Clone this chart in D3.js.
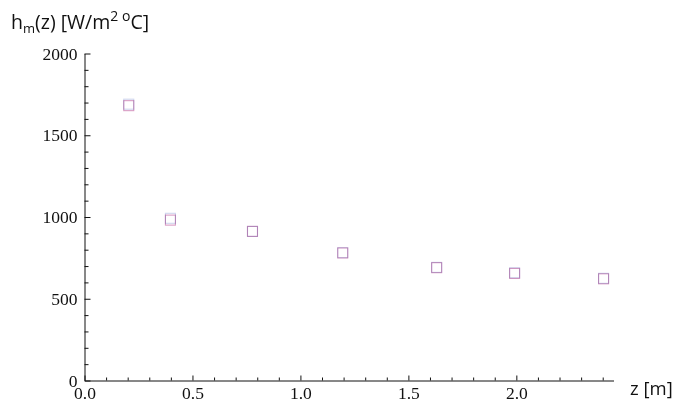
<!DOCTYPE html>
<html>
<head>
<meta charset="utf-8">
<script src="https://cdn.jsdelivr.net/npm/d3@7"></script>
<style>
  html, body { margin: 0; padding: 0; background: #fff; }
  svg { display: block; }
  .tick text { font-family: "Liberation Serif", "Times New Roman", serif; font-size: 17.5px; fill: #111; }
  .axis path, .axis line { stroke: #111; }
  .title { font-family: "Open Sans", sans-serif; font-size: 19.5px; fill: #111; }
</style>
</head>
<body>
<script>
// Heat transfer coefficient along the channel, two overlaid measurement series
const zPositions = [0.205, 0.398, 0.778, 1.196, 1.631, 1.992, 2.404];
const seriesA = [1690, 992, 912, 782, 692, 659, 625];
const seriesB = [1681, 981, 912, 780, 690, 655, 622];
const xMajorTicks = [0.0, 0.5, 1.0, 1.5, 2.0];
const yMajorTicks = [0, 500, 1000, 1500, 2000];

const W = 679, H = 402;
const svg = d3.select("body").append("svg").attr("width", W).attr("height", H);

const x = d3.scaleLinear().domain([0, 2.45]).range([84.5, 613.5]);
const y = d3.scaleLinear().domain([0, 2000]).range([380.5, 53.5]);

// minor ticks
const xMinor = d3.range(1, 25).map(i => i / 10).filter(v => Math.abs(v * 2 - Math.round(v * 2)) > 1e-6);
const yMinor = d3.range(100, 2000, 100).filter(v => v % 500 !== 0);

svg.append("g").attr("class", "axis").attr("transform", "translate(0,380.5)")
  .call(d3.axisBottom(x).tickValues(xMinor).tickSizeInner(-3).tickSizeOuter(0).tickFormat(""))
  .call(g => g.select(".domain").remove());
svg.append("g").attr("class", "axis").attr("transform", "translate(0,380.5)")
  .call(d3.axisBottom(x).tickValues(xMajorTicks).tickSizeInner(-5).tickSizeOuter(0).tickPadding(6)
    .tickFormat(d3.format(".1f")));

svg.append("g").attr("class", "axis").attr("transform", "translate(84.5,0)")
  .call(d3.axisLeft(y).tickValues(yMinor).tickSizeInner(-4).tickSizeOuter(0).tickFormat(""))
  .call(g => g.select(".domain").remove());
svg.append("g").attr("class", "axis").attr("transform", "translate(84.5,0)")
  .call(d3.axisLeft(y).tickValues(yMajorTicks).tickSizeInner(-6).tickSizeOuter(0).tickPadding(7)
    .tickFormat(d3.format("d")));

// markers: open squares, the two series blended where they coincide
const S = 10;
const marks = svg.append("g").style("isolation", "isolate");
function drawSeries(vals, color) {
  marks.append("g").style("mix-blend-mode", "multiply")
    .selectAll("rect").data(vals).join("rect")
    .attr("x", (d, i) => x(zPositions[i]) - S / 2)
    .attr("y", d => y(d) - S / 2)
    .attr("width", S).attr("height", S)
    .attr("fill", "none").attr("stroke", color).attr("stroke-width", 1.1);
}
drawSeries(seriesA, "#d0d6ee");
drawSeries(seriesB, "#d89cc4");

// axis titles
const yt = svg.append("text").attr("class", "title").attr("x", 11).attr("y", 29);
yt.append("tspan").text("h");
yt.append("tspan").attr("font-size", "13px").attr("dy", 4).text("m");
yt.append("tspan").attr("dy", -4).text("(z) [W/m");
yt.append("tspan").attr("font-size", "14px").attr("dy", -8).text("2 o");
yt.append("tspan").attr("dy", 8).text("C]");

svg.append("text").attr("class", "title").attr("x", 630).attr("y", 395)
  .style("font-size", "18.5px").text("z [m]");
</script>
</body>
</html>
